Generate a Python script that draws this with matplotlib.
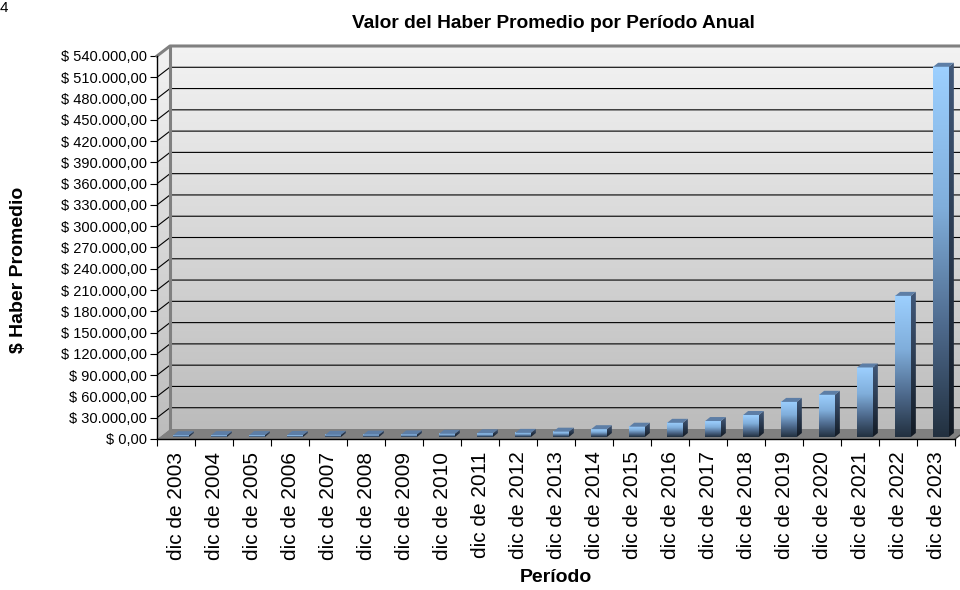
import numpy as np
import matplotlib
matplotlib.use('Agg')
import matplotlib.pyplot as plt
from matplotlib.colors import LinearSegmentedColormap
from matplotlib.patches import Polygon

plt.rcParams['font.family'] = ['Liberation Sans', 'DejaVu Sans']

# haber promedio al cierre de cada año
periodos = ['dic de %d' % anio for anio in range(2003, 2024)]
haber = [2500, 2600, 2700, 2800, 3000, 3300, 3600, 4500, 5200, 5800, 7500,
         11000, 14500, 20000, 22500, 31000, 49500, 59500, 98000, 199000, 522000]

Y_MAX = 540000
Y_STEP = 30000

# plot box in pixels (figure is 960x590 at 100 dpi)
PLOT_L, PLOT_B, PLOT_W, PLOT_H = 157, 151, 798, 383
DEPTH_PX = (13, 10)      # back wall offset
BAR_PX = (15.7, 5, 2)    # front width, shift x, shift y
BAR_DEPTH_PX = (5, 4)

wall_cmap = LinearSegmentedColormap.from_list('wall', ['#bcbcbc', '#f3f3f3'])
front_cmap = LinearSegmentedColormap.from_list(
    'front', [(0, '#22303f'), (0.3, '#4e6a8d'), (0.62, '#80aedb'), (1, '#9dd0ff')])
side_cmap = LinearSegmentedColormap.from_list('side', ['#121a24', '#42597a'])
top_color = '#5d7ea6'


def fmt_peso(v):
    s = f'{v:,.2f}'
    return '$ ' + s.replace(',', '#').replace('.', ',').replace('#', '.')


n = len(periodos)
px_x = PLOT_W / n
px_y = PLOT_H / Y_MAX
dx = DEPTH_PX[0] / px_x
dy = DEPTH_PX[1] / px_y
x0, x1 = -0.5, n - 0.5

fig = plt.figure(figsize=(9.6, 5.9), dpi=100)
ax = fig.add_axes([PLOT_L / 960, PLOT_B / 590,
                   (PLOT_W + DEPTH_PX[0]) / 960, (PLOT_H + DEPTH_PX[1]) / 590])
ax.patch.set_visible(False)

grad = np.linspace(0, 1, 256).reshape(-1, 1)

# back wall + side wall
ax.imshow(grad, extent=(x0 + dx, x1 + dx, dy, Y_MAX + dy), origin='lower',
          cmap=wall_cmap, aspect='auto', zorder=0)
side = Polygon([(x0, 0), (x0, Y_MAX), (x0 + dx, Y_MAX + dy), (x0 + dx, dy)],
               closed=True, fc='none', ec='none')
ax.add_patch(side)
ax.imshow(grad, extent=(x0, x0 + dx, 0, Y_MAX + dy), origin='lower',
          cmap=wall_cmap, aspect='auto', clip_path=side, zorder=0)

# floor
ax.add_patch(Polygon([(x0, 0), (x1, 0), (x1 + dx, dy), (x0 + dx, dy)],
                     closed=True, fc='#808080', ec='none', zorder=1))

# gridlines on side and back walls
for v in range(Y_STEP, Y_MAX, Y_STEP):
    ax.plot([x0, x0 + dx, x1 + dx], [v, v + dy, v + dy], color='black',
            lw=0.8, zorder=1)

# wall borders
ax.plot([x0, x0 + dx, x1 + dx], [Y_MAX, Y_MAX + dy, Y_MAX + dy],
        color='#808080', lw=2.2, clip_on=False, zorder=2)
ax.plot([x0 + dx, x0 + dx], [dy, Y_MAX + dy], color='#808080', lw=2.2, zorder=2)

# bars
xs = np.arange(n)
bar_w = BAR_PX[0] / px_x
bdx = BAR_DEPTH_PX[0] / px_x
bdy = BAR_DEPTH_PX[1] / px_y
bars = ax.bar(xs + BAR_PX[1] / px_x, haber, width=bar_w, bottom=BAR_PX[2] / px_y,
              color=top_color, zorder=3)
for rect in bars:
    bx0 = rect.get_x()
    bx1 = bx0 + rect.get_width()
    b = rect.get_y()
    top = b + rect.get_height()
    ax.imshow(grad, extent=(bx0, bx1, b, top), origin='lower', cmap=front_cmap,
              aspect='auto', zorder=4, interpolation='bilinear')
    sp = Polygon([(bx1, b), (bx1, top), (bx1 + bdx, top + bdy), (bx1 + bdx, b + bdy)],
                 closed=True, fc='none', ec='none')
    ax.add_patch(sp)
    ax.imshow(grad, extent=(bx1, bx1 + bdx, b, top + bdy), origin='lower',
              cmap=side_cmap, aspect='auto', clip_path=sp, zorder=4)
    ax.add_patch(Polygon([(bx0, top), (bx1, top), (bx1 + bdx, top + bdy), (bx0 + bdx, top + bdy)],
                         closed=True, fc=top_color, ec='none', zorder=4))

# front axis lines
ax.plot([x0, x0], [0, Y_MAX], color='black', lw=1, clip_on=False, zorder=5)
ax.plot([x0, x1], [0, 0], color='black', lw=1, clip_on=False, zorder=5)
ax.plot([x1, x1 + dx], [0, dy], color='#404040', lw=1, zorder=5)

yt = list(range(0, Y_MAX + 1, Y_STEP))
ax.set_yticks(yt)
ax.set_yticklabels([fmt_peso(v) for v in yt])
ax.tick_params(axis='y', direction='out', length=5, width=0.8, pad=2, labelsize=10.5)
ax.set_xticks(xs)
ax.set_xticklabels(periodos, rotation=90, fontsize=15)
ax.tick_params(axis='x', which='major', length=0, pad=9)
ax.set_xticks(np.arange(n + 1) - 0.5, minor=True)
ax.tick_params(axis='x', which='minor', direction='out', length=5, width=0.8)
for s in ax.spines.values():
    s.set_visible(False)
ax.set_xlim(x0, x1 + dx)
ax.set_ylim(0, Y_MAX + dy)

fig.text(553 / 960, 1 - 28 / 590, 'Valor del Haber Promedio por Período Anual',
         ha='center', va='baseline', fontsize=13.8, fontweight='bold')
fig.text(19 / 960, 1 - 270 / 590, '$ Haber Promedio', rotation=90,
         ha='center', va='center', fontsize=14, fontweight='bold')
fig.text(556 / 960, 1 - 578 / 590, 'Período', ha='center', va='center',
         fontsize=14, fontweight='bold')
fig.text(8 / 960, 1 - 12 / 590, '4', ha='right', va='baseline', fontsize=11)

fig.savefig('out.png', dpi=100, facecolor='white')
